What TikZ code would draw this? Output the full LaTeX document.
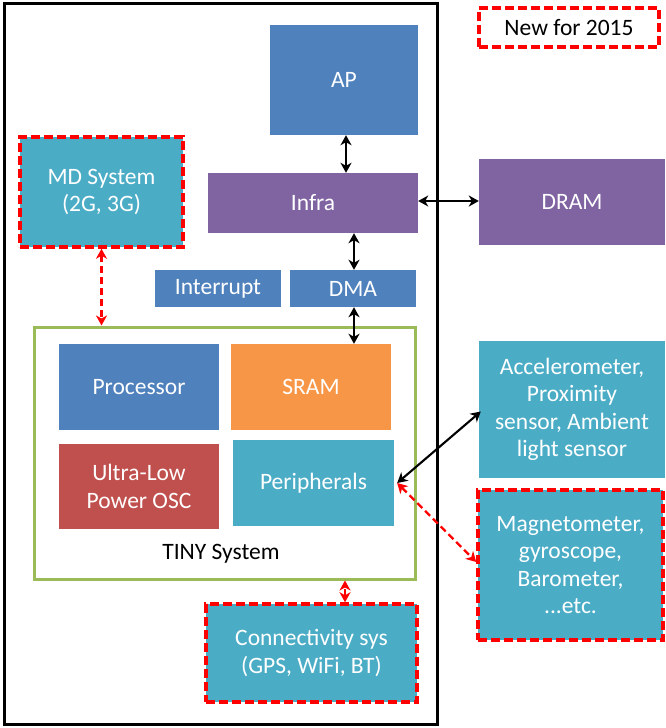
\documentclass[tikz,border=0pt]{standalone}
\usepackage{fontspec}
\setmainfont{Carlito}
\usetikzlibrary{arrows.meta,calc}
\definecolor{cblue}{HTML}{4F81BD}
\definecolor{cpurple}{HTML}{8064A2}
\definecolor{cteal}{HTML}{4BACC6}
\definecolor{corange}{HTML}{F79646}
\definecolor{cred}{HTML}{C0504D}
\definecolor{cgreen}{HTML}{9BBB59}
\definecolor{dred}{HTML}{FF0000}
\tikzset{
  blk/.style={rectangle, inner sep=0pt, text=white, align=center,
    font=\fontsize{23.5}{27.5}\selectfont},
  newbox/.style={blk, draw=dred, line width=3.5pt, dash pattern=on 9pt off 4pt},
  biarrow/.style={{Stealth[length=10pt,width=11pt,inset=3pt]}-{Stealth[length=10pt,width=11pt,inset=3pt]}, line width=2.1pt, black},
  redarrow/.style={{Stealth[length=10pt,width=11pt,inset=3pt]}-{Stealth[length=10pt,width=11pt,inset=3pt]}, line width=2.4pt, dred, dash pattern=on 7pt off 4pt},
}
\begin{document}
\begin{tikzpicture}[x=1pt,y=-1pt]
\useasboundingbox (0,0) rectangle (665,728);
\fill[white] (0,0) rectangle (665,728);
% outer black frame
\draw[line width=3pt] (4,3) rectangle (437,724);
% legend
\node[newbox, fill=white, text=black, minimum width=180, minimum height=39] (new) at (569,27.5) {New for 2015};
% top blocks
\node[blk, fill=cblue, minimum width=148, minimum height=110] (AP) at (344,80) {AP};
\node[blk, fill=cpurple, minimum width=210, minimum height=60] (Infra) at (313,203) {Infra};
\node[blk, fill=cpurple, minimum width=186, minimum height=86] (DRAM) at (572,202) {DRAM};
\node[newbox, fill=cteal, minimum width=163, minimum height=110] (MD) at (101.5,192) {MD System\\(2G, 3G)};
\node[blk, fill=cblue, minimum width=126, minimum height=37] (Int) at (218,288.5) {Interrupt};
\node[blk, fill=cblue, minimum width=126, minimum height=37] (DMA) at (353,288.5) {DMA};
% TINY system
\node[rectangle, draw=cgreen, line width=3pt, minimum width=381, minimum height=252, inner sep=0pt] (TINY) at (224.5,453) {};
\node[blk, fill=cblue, minimum width=160, minimum height=86] (Proc) at (139,387) {Processor};
\node[blk, fill=corange, minimum width=160, minimum height=86] (SRAM) at (311,387) {SRAM};
\node[blk, fill=cred, minimum width=160, minimum height=85] (ULP) at (139,486.5) {Ultra-Low\\Power OSC};
\node[blk, fill=cteal, minimum width=161, minimum height=86] (Periph) at (313.5,483) {Peripherals};
\node[blk, text=black] (tinylbl) at (221,554) {TINY System};
% right side
\node[blk, fill=cteal, minimum width=186, minimum height=137] (Acc) at (572,409.5) {Accelerometer,\\Proximity\\sensor, Ambient\\light sensor};
\node[newbox, fill=cteal, minimum width=185, minimum height=150] (Mag) at (570.5,565) {Magnetometer,\\gyroscope,\\Barometer,\\...etc.};
\node[newbox, fill=cteal, minimum width=211, minimum height=98] (Conn) at (311.5,653) {Connectivity sys\\(GPS, WiFi, BT)};
% connectors
\draw[biarrow] ([xshift=2]AP.south) -- ([xshift=2]AP.south |- Infra.north);
\draw[biarrow] ([xshift=1]DMA.north |- Infra.south) -- ([xshift=1]DMA.north);
\draw[biarrow] ([xshift=1]DMA.south) -- ([xshift=1]DMA.south |- SRAM.north);
\draw[biarrow] ([yshift=2]Infra.east) -- ([yshift=2]Infra.east -| DRAM.west);
\draw[biarrow] ([xshift=3]Periph.east) -- ([xshift=2,yshift=-2]Acc.west);
\draw[redarrow] (MD.south) -- (MD.south |- TINY.north);
\draw[redarrow] ([xshift=33.5]Conn.north) -- ([xshift=33.5]Conn.north |- TINY.south);
\draw[redarrow] ([xshift=3]Periph.east) -- ([yshift=3]Mag.west);
\end{tikzpicture}
\end{document}
